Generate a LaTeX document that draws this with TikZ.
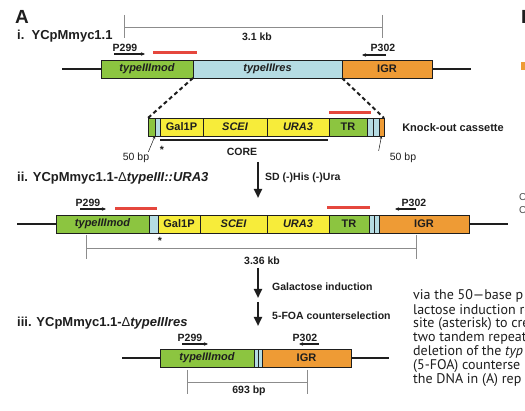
\documentclass[tikz,border=0pt]{standalone}
\usepackage{fontspec}
\setmainfont{Liberation Sans}
\newfontfamily\bodyfont{PT Sans}
\usetikzlibrary{arrows.meta}
\definecolor{gr}{HTML}{8CC540}
\definecolor{lb}{HTML}{B5DCE3}
\definecolor{og}{HTML}{EE9B35}
\definecolor{yl}{HTML}{F7EC3A}
\definecolor{rd}{HTML}{E5473D}
\definecolor{sc}{HTML}{8C8C8C}
\definecolor{ink}{HTML}{1E1E1E}
\tikzset{
  seg/.style={draw=ink, line width=0.8pt, minimum height=18, inner sep=0, outer sep=0, anchor=west,
    font=\bfseries\fontsize{11}{11}\selectfont, text=ink},
  dna/.style={line width=2.2pt, ink},
  redbar/.style={line width=3pt, rd},
  scalebar/.style={line width=0.8pt, sc},
  primer/.style={font=\bfseries\fontsize{10.5}{11}\selectfont, text=ink, inner sep=0},
  parrow/.style={line width=1.1pt, ink, -{Stealth[length=4pt,width=3.5pt]}},
  lbl/.style={font=\bfseries\fontsize{13}{14}\selectfont, text=ink, inner sep=0, anchor=west},
  small/.style={font=\bfseries\fontsize{10.5}{11}\selectfont, text=ink, inner sep=0},
  bigarrow/.style={line width=2.2pt, ink, -{Triangle[length=9pt,width=8pt]}},
  dashline/.style={line width=2pt, ink, dash pattern=on 4pt off 3pt},
  thinarrow/.style={line width=0.5pt, ink, -{Stealth[length=3pt,width=2.5pt]}},
  body/.style={font=\bodyfont\fontsize{14}{14}\selectfont, text=ink, inner sep=0, anchor=west},
}
\begin{document}
\begin{tikzpicture}[x=1pt,y=-1pt]
\useasboundingbox (0,0) rectangle (525,411);
\fill[white] (0,0) rectangle (525,411);

% ---------- header ----------
\node[font=\bfseries\fontsize{19}{20}\selectfont, text=ink, inner sep=0, anchor=west] (hA) at (15,17) {A};
\node[lbl] (ti) at (17,36) {i.\ \ YCpMmyc1.1};

% ---------- row i ----------
\draw[scalebar] (124,15) -- (124,38);
\draw[scalebar] (382,15) -- (382,38);
\coordinate (s1a) at (124,27); \coordinate (s1b) at (382,27);
\draw[scalebar] (s1a) -- (s1b);
\node[small] (s1l) at (257,37) {3.1 kb};

\node[seg, fill=gr, minimum width=92] (i1) at (101,69) {\itshape typeIIImod};
\node[seg, fill=lb, minimum width=149] (i2) at (193,69) {\itshape typeIIIres};
\node[seg, fill=og, minimum width=90] (i3) at (342,69) {IGR};
\coordinate (iL) at (62,69); \coordinate (iR) at (471,69);
\draw[dna] (iL) -- (i1.west);
\draw[dna] (i3.east) -- (iR);

\node[primer] (p299a) at (125,48) {P299};
\coordinate (p299as) at (114,54); \coordinate (p299ae) at (145,54);
\draw[parrow] (p299as) -- (p299ae);
\coordinate (r1a) at (153,53); \coordinate (r1b) at (197,53);
\draw[redbar] (r1a) -- (r1b);
\node[primer] (p302a) at (383,48) {P302};
\coordinate (p302as) at (386,55); \coordinate (p302ae) at (362,55);
\draw[parrow] (p302as) -- (p302ae);

% ---------- knock-out cassette ----------
\node[seg, fill=gr, minimum width=7] (c1) at (148,127) {};
\node[seg, fill=lb, minimum width=5] (c2) at (155,127) {};
\node[seg, fill=yl, minimum width=43] (c3) at (160,127) {Gal1P};
\node[seg, fill=yl, minimum width=64] (c4) at (203,127) {\itshape SCEI};
\node[seg, fill=yl, minimum width=62] (c5) at (267,127) {\itshape URA3};
\node[seg, fill=gr, minimum width=38] (c6) at (329,127) {TR};
\node[seg, fill=lb, minimum width=6] (c7) at (367,127) {};
\node[seg, fill=lb, minimum width=6] (c8) at (373,127) {};
\node[seg, fill=og, minimum width=5] (c9) at (379,127) {};

\draw[dashline] (i1.south east) -- (c1.north west);
\draw[dashline] (i2.south east) -- (c9.north east);

\coordinate (r2a) at (329,113); \coordinate (r2b) at (371,113);
\draw[redbar] (r2a) -- (r2b);
\node[font=\bfseries\fontsize{11}{12}\selectfont, text=ink, inner sep=0] (ko) at (453,128) {Knock-out cassette};

\coordinate (corea) at (160,140); \coordinate (coreb) at (328,140);
\draw[line width=2.5pt, ink] (corea) -- (coreb);
\node[small] (corel) at (242,152) {CORE};
\node[small] (st1) at (162,150) {*};

\node[font=\fontsize{10.5}{11}\selectfont, text=ink, inner sep=0] (bpL) at (136,158) {50 bp};
\draw[thinarrow] (bpL.north east) ++(-1,-1) -- (c1.south east);
\node[font=\fontsize{10.5}{11}\selectfont, text=ink, inner sep=0] (bpR) at (403,158) {50 bp};
\draw[thinarrow] (bpR.north west) ++(-11,-2) -- (c9.south);

% ---------- arrow 1 ----------
\coordinate (a1s) at (258,162); \coordinate (a1e) at (258,198);
\draw[bigarrow] (a1s) -- (a1e);
\node[small, anchor=west] (sd) at (265,178) {SD (-)His (-)Ura};

% ---------- row ii ----------
\node[lbl] (tii) at (17,178) {ii. YCpMmyc1.1-{\mdseries Δ}\textit{typeIII::URA3}};

\node[seg, fill=gr, minimum width=93] (ii1) at (56,224) {\itshape typeIIImod};
\node[seg, fill=lb, minimum width=9] (ii2) at (149,224) {};
\node[seg, fill=yl, minimum width=42] (ii3) at (158,224) {Gal1P};
\node[seg, fill=yl, minimum width=67] (ii4) at (200,224) {\itshape SCEI};
\node[seg, fill=yl, minimum width=62] (ii5) at (267,224) {\itshape URA3};
\node[seg, fill=gr, minimum width=40] (ii6) at (329,224) {TR};
\node[seg, fill=lb, minimum width=5] (ii7) at (369,224) {};
\node[seg, fill=lb, minimum width=5] (ii8) at (374,224) {};
\node[seg, fill=og, minimum width=90] (ii9) at (379,224) {IGR};
\coordinate (iiL) at (17,224); \coordinate (iiR) at (508,224);
\draw[dna] (iiL) -- (ii1.west);
\draw[dna] (ii9.east) -- (iiR);

\node[primer] (p299b) at (88,203) {P299};
\coordinate (p299bs) at (80,209); \coordinate (p299be) at (106,209);
\draw[parrow] (p299bs) -- (p299be);
\coordinate (r3a) at (115,209); \coordinate (r3b) at (157,209);
\draw[redbar] (r3a) -- (r3b);
\coordinate (r4a) at (327,208); \coordinate (r4b) at (370,208);
\draw[redbar] (r4a) -- (r4b);
\node[primer] (p302b) at (414,203) {P302};
\coordinate (p302bs) at (416,209); \coordinate (p302be) at (395,209);
\draw[parrow] (p302bs) -- (p302be);
\node[small] (st2) at (160,241) {*};

\draw[scalebar] (86,235) -- (86,259);
\draw[scalebar] (416,235) -- (416,259);
\coordinate (s2a) at (86,248); \coordinate (s2b) at (416,248);
\draw[scalebar] (s2a) -- (s2b);
\node[small] (s2l) at (262,261) {3.36 kb};

% ---------- arrows 2,3 ----------
\coordinate (a2s) at (258,268); \coordinate (a2e) at (258,298);
\draw[bigarrow] (a2s) -- (a2e);
\node[small, anchor=west] (gal) at (272,287) {Galactose induction};
\coordinate (a3s) at (258,302); \coordinate (a3e) at (258,326);
\draw[bigarrow] (a3s) -- (a3e);
\node[small, anchor=west] (foa) at (272,316) {5-FOA counterselection};

% ---------- row iii ----------
\node[lbl] (tiii) at (17,323) {iii. YCpMmyc1.1-{\mdseries Δ}\textit{typeIIIres}};
\node[seg, fill=gr, minimum width=94] (iii1) at (160,358) {\itshape typeIIImod};
\node[seg, fill=lb, minimum width=4] (iii2) at (254,358) {};
\node[seg, fill=lb, minimum width=4] (iii3) at (258,358) {};
\node[seg, fill=og, minimum width=89] (iii4) at (262,358) {IGR};
\coordinate (iiiL) at (122,358); \coordinate (iiiR) at (389,358);
\draw[dna] (iiiL) -- (iii1.west);
\draw[dna] (iii4.east) -- (iiiR);

\node[primer] (p299c) at (190,338) {P299};
\coordinate (p299cs) at (182,344); \coordinate (p299ce) at (208,344);
\draw[parrow] (p299cs) -- (p299ce);
\node[primer] (p302c) at (305,338) {P302};
\coordinate (p302cs) at (319,344); \coordinate (p302ce) at (299,344);
\draw[parrow] (p302cs) -- (p302ce);

\draw[scalebar] (187,370) -- (187,394);
\draw[scalebar] (307,370) -- (307,394);
\coordinate (s3a) at (187,382); \coordinate (s3b) at (307,382);
\draw[scalebar] (s3a) -- (s3b);
\node[small] (s3l) at (249,391) {693 bp};

% ---------- cropped page fragments ----------
\begin{scope}
\clip (0,0) rectangle (525,411);
\node[font=\bfseries\fontsize{19}{20}\selectfont, text=ink, inner sep=0, anchor=west] (hB) at (521,17) {B};
\fill[og] (521,62) rectangle (526,70);
\node[font=\fontsize{10}{11}\selectfont, text=ink!80, inner sep=0, anchor=west] (cc1) at (519,197) {C};
\node[font=\fontsize{10}{11}\selectfont, text=ink!80, inner sep=0, anchor=west] (cc2) at (519,210) {C};
\node[body] (b1) at (413,296) {via the 50—base p};
\node[body] (b2) at (413,310) {lactose induction re};
\node[body] (b3) at (413,324) {site (asterisk) to cre};
\node[body] (b4) at (413,338) {two tandem repeat};
\node[body] (b5) at (413,352) {deletion of the \textit{typ}};
\node[body] (b6) at (413,366) {(5-FOA) counterse};
\node[body] (b7) at (413,380) {the DNA in (A) rep};
\end{scope}
\end{tikzpicture}
\end{document}
